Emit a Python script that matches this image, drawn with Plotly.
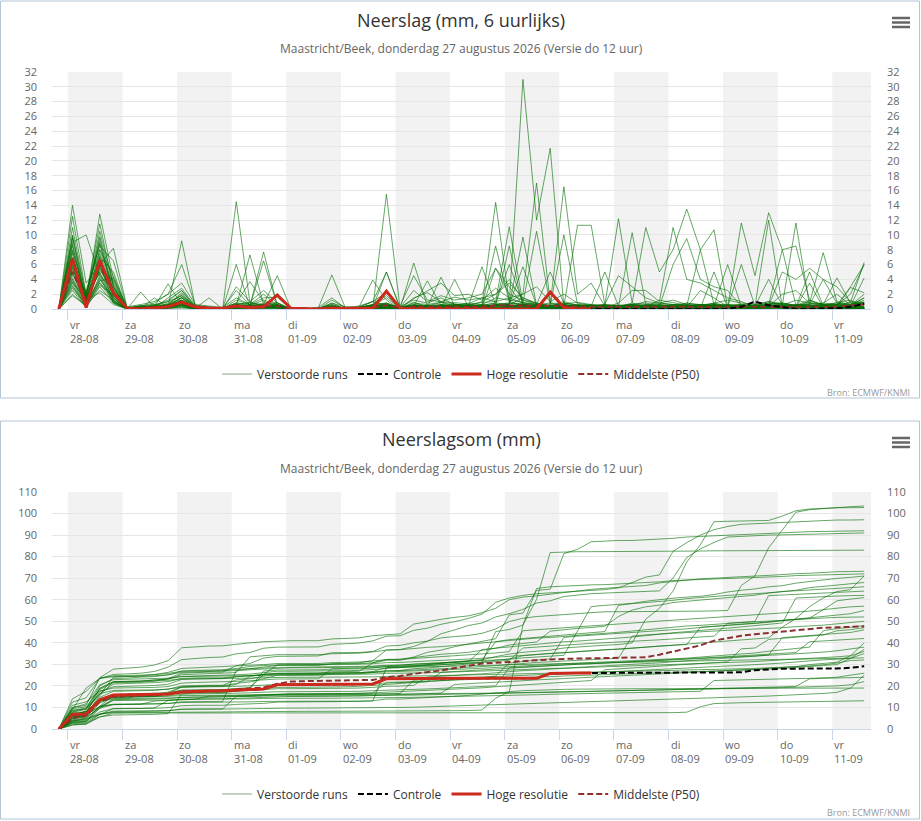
import plotly.graph_objects as go
import pandas as pd
import numpy as np

# 6-hourly steps (local time), 60 points
times = pd.date_range("2026-08-27 20:00", periods=60, freq="6h")
day_starts = pd.date_range("2026-08-28", "2026-09-11", freq="D")
day_names = ["vr", "za", "zo", "ma", "di", "wo", "do", "vr", "za", "zo", "ma", "di", "wo", "do", "vr"]

# Hoge resolutie (runs 10 days)
hoge_resolutie = [
    0, 6.8, 0.2, 6.6, 2.2, 0.1, 0, 0.1, 0.3, 0.9,
    0.3, 0.1, 0.1, 0.4, 0.2, 0.3, 1.9, 0.1, 0, 0,
    0.1, 0.1, 0, 0.1, 2.4, 0.1, 0, 0, 0, 0.1,
    0, 0, 0, 0, 0, 0, 2.3, 0.2, 0, 0,
]

controle = [
    0, 6.8, 0.2, 6.6, 2.2, 0.1, 0, 0.1, 0.3, 0.9,
    0.3, 0.1, 0.1, 0.4, 0.2, 0.3, 1.9, 0.1, 0, 0,
    0.1, 0.1, 0, 0.1, 2.4, 0.1, 0, 0, 0, 0.1,
    0, 0, 0, 0, 0, 0, 2.3, 0.2, 0, 0,
    0, 0, 0, 0, 0, 0, 0, 0, 0, 0,
    0.3, 1.0, 0.5, 0.2, 0, 0, 0, 0.1, 0.3, 0.7,
]

middelste_6u = [
    0, 5.0, 1.0, 6.0, 2.0, 0, 0.2, 0.2, 0.3, 1.0,
    0.2, 0.1, 0, 0.4, 0.3, 0.4, 0.4, 0, 0, 0,
    0.2, 0, 0.1, 0.2, 0.5, 0.1, 0.3, 0.3, 0.3, 0.3,
    0.3, 0.3, 0.5, 0.5, 0.5, 0.4, 0.4, 0.4, 0.3, 0.3,
    0.3, 0.3, 0.4, 0.3, 0.4, 0.3, 0.3, 0.4, 0.4, 0.3,
    0.3, 0.3, 0.4, 0.3, 0.4, 0.4, 0.4, 0.3, 0.5, 0.6,
]

middelste_som = [
    0, 5.0, 6.2, 12.8, 15.0, 15.2, 15.4, 15.7, 16.2, 17.3,
    17.5, 17.6, 17.7, 18.4, 18.8, 19.3, 21.0, 22.0, 22.2, 22.3,
    22.4, 22.5, 22.6, 22.8, 24.0, 24.6, 25.6, 26.3, 27.2, 28.3,
    29.3, 30.4, 30.7, 31.0, 31.5, 31.9, 32.3, 32.6, 32.7, 32.8,
    33.0, 33.0, 33.1, 33.3, 34.5, 36.0, 37.5, 38.8, 41.0, 42.3,
    43.3, 44.0, 44.6, 45.2, 45.6, 46.5, 47.0, 47.2, 47.5, 47.6,
]

# Verstoorde runs, 6-hourly amounts (mm)
verstoorde_runs = [
    [0, 9.5, 0.8, 8.0, 3.2, 0, 0.2, 0.5, 1.2, 2.5, 0.3, 0.2, 0, 3.0, 1.0, 2.5, 0.8, 0, 0, 0.2,
     1.5, 0.1, 0, 0.5, 2.5, 0.3, 1.2, 0.8, 1.5, 0.6, 0.5, 1.0, 2.0, 3.5, 1.5, 0.8, 0.5, 0.6, 0.2, 0.5,
     0.4, 0, 0, 0, 0.1, 0.2, 0, 0, 0.1, 0.2, 11.6, 4.5, 13.0, 8.0, 8.5, 1.2, 0.5, 0.6, 0.3, 0.3],
    [0, 6.0, 1.2, 7.5, 2.8, 0.1, 0, 0.3, 0.6, 1.5, 0.2, 0, 0.1, 2.5, 0.5, 1.2, 0.6, 0, 0, 0,
     0.8, 0, 0.2, 0.6, 1.8, 0.1, 0.6, 0.4, 0.9, 0.7, 0.3, 0.6, 1.5, 1.2, 0.8, 0.6, 0.4, 1.0, 0.5, 0.3,
     0.5, 0.3, 0.8, 11.0, 5.0, 8.0, 13.5, 8.0, 10.7, 0.2, 0.1, 0, 0.3, 2.0, 2.5, 0.8, 0.4, 0.2, 0, 0.1],
    [0, 12.5, 2.0, 9.0, 1.8, 0.2, 0.4, 0.8, 2.0, 3.5, 0.6, 0.4, 0.2, 1.5, 0.6, 2.0, 0.5, 0, 0.1, 0,
     1.2, 0.2, 0.4, 1.0, 2.2, 0.2, 2.5, 1.0, 1.8, 1.2, 1.5, 2.0, 5.5, 2.0, 1.2, 0.8, 0.4, 0.6, 0.3, 0.4,
     0.2, 0.8, 2.5, 2.5, 1.0, 11.0, 4.0, 3.5, 2.5, 1.5, 1.0, 0.3, 0.5, 0.2, 0.4, 0.2, 0.3, 0.1, 0, 0.1],
    [0, 5.0, 0.6, 6.5, 2.5, 0, 0.3, 0.2, 1.5, 2.8, 0.4, 0.1, 0, 0.8, 3.7, 1.0, 0.4, 0, 0, 0.1,
     0.6, 0, 0.3, 3.9, 1.2, 0, 1.5, 2.2, 1.0, 1.6, 1.2, 1.5, 1.0, 11.1, 0.8, 10.5, 0.6, 16.5, 2.0, 3.5,
     0.4, 0.2, 0, 0.3, 0.5, 0.2, 0.6, 0.3, 0.4, 0.2, 0.3, 0.2, 0.5, 0.2, 0.3, 0.1, 0.1, 0.2, 0.1, 0],
    [0, 8.0, 1.5, 10.5, 3.5, 0.1, 0.5, 0.2, 0.8, 1.8, 0.3, 0.2, 0.1, 0.6, 0.9, 0.5, 0.3, 0, 0, 0,
     0.5, 0.1, 0.3, 1.0, 5.0, 0.2, 1.4, 2.4, 3.5, 1.8, 2.0, 1.2, 2.8, 1.5, 2.0, 3.0, 1.0, 2.0, 0.8, 0.5,
     0.3, 0.2, 0.1, 0.4, 0.3, 6.0, 9.5, 4.0, 3.0, 2.5, 0.4, 0.2, 0.3, 0.1, 0.2, 0.2, 0.1, 0.2, 0.1, 0.1],
    [0, 3.5, 0.4, 4.0, 1.6, 0, 0, 0.1, 0.3, 0.9, 0.2, 0, 0, 0.4, 0.2, 0.3, 0.6, 0, 0, 0,
     0.2, 0, 0.1, 0.3, 0.8, 0, 0.3, 0.2, 0.5, 0.4, 0.3, 0.6, 0.4, 0.6, 31.0, 12.0, 21.7, 0.3, 0.1, 0,
     0, 0, 0.1, 0, 0, 0.2, 0, 0, 0.1, 0, 0, 0, 0.1, 0, 0, 0, 0.1, 0, 0.1, 0],
    [0, 10.0, 1.0, 12.8, 4.0, 0.3, 0.6, 1.0, 2.0, 6.0, 0.5, 0.3, 0.1, 0.8, 0.6, 0.5, 0.4, 0.1, 0, 0,
     0.8, 0.3, 0.2, 1.0, 0.5, 0.4, 4.5, 1.2, 1.0, 0.9, 0.7, 1.5, 2.0, 4.0, 1.2, 0.6, 0.8, 0.7, 0.9, 0.6,
     0.5, 0.4, 0.6, 0.3, 1.2, 0.8, 0.5, 0.6, 0.4, 0.3, 0.2, 0.4, 0.3, 0.5, 0.3, 0.2, 0.4, 0.3, 0.1, 0.1],
    [0, 7.5, 0.5, 5.5, 2.0, 0, 0.2, 0.4, 1.0, 2.5, 0.3, 0.1, 0, 1.2, 0.6, 1.5, 1.6, 0, 0, 0.1,
     0.4, 0, 0.2, 0.6, 0.8, 0.1, 0.9, 0.3, 0.6, 0.5, 0.8, 0.6, 14.4, 1.0, 2.0, 17.0, 0.8, 0.4, 0.3, 0.2,
     0.1, 0.3, 0.2, 0.5, 0.3, 0.6, 0.2, 0.4, 0.2, 0.3, 0.2, 0.1, 0.3, 0.2, 0.4, 0.1, 0.2, 0.3, 0.1, 0.1],
    [0, 4.5, 2.5, 8.5, 6.5, 0.1, 0.2, 0.5, 0.4, 1.2, 0.2, 0.1, 0, 0.5, 0.3, 0.8, 0.5, 0, 0, 0,
     0.3, 0, 0.1, 0.4, 0.6, 0.2, 0.5, 0.4, 0.3, 0.6, 0.4, 0.5, 0.8, 0.6, 1.5, 0.7, 0.4, 0.3, 0.5, 0.6,
     0.3, 0.2, 0.5, 0.4, 0.6, 0.3, 0.8, 0.5, 0.4, 0.6, 0.3, 0.5, 0.4, 5.0, 4.0, 5.5, 4.0, 3.0, 0.9, 6.3],
    [0, 14.0, 3.5, 6.0, 1.2, 0, 0.3, 0.2, 0.6, 1.0, 0.2, 0, 0.1, 0.6, 0.3, 0.4, 0.2, 0, 0, 0,
     0.3, 0.1, 0, 0.2, 0.4, 0, 0.5, 0.3, 0.4, 0.2, 0.3, 0.2, 0.5, 0.4, 0.6, 0.3, 0.5, 0.4, 11.3, 11.3,
     0.6, 0.4, 0.5, 1.0, 0.8, 0.6, 0.5, 0.4, 0.8, 1.2, 0.8, 0.6, 1.0, 0.5, 1.2, 0.8, 0.6, 0.8, 0.5, 0.6],
    [0, 6.5, 0.3, 3.5, 1.0, 0, 0.1, 0.2, 0.3, 0.7, 0.1, 0, 0, 14.5, 0.8, 0.6, 0.9, 0, 0, 0,
     0.6, 0, 0.2, 0.5, 1.5, 0.1, 0.8, 0.6, 0.9, 0.4, 0.5, 0.9, 1.0, 1.5, 0.8, 0.6, 5.0, 0.8, 0.5, 0.4,
     0.6, 4.5, 3.0, 1.5, 0.8, 1.2, 0.6, 0.5, 0.8, 0.4, 0.6, 0.5, 1.0, 0.8, 0.5, 1.2, 0.6, 0.4, 0.6, 0.8],
    [0, 9.0, 10.0, 4.5, 0.8, 0, 0.1, 0.3, 0.4, 1.2, 0.2, 0.1, 0, 0.5, 0.4, 0.3, 0.6, 0, 0, 0,
     0.2, 0, 0.1, 0.3, 0.5, 0.2, 0.4, 0.3, 0.2, 0.4, 0.6, 0.4, 8.5, 1.0, 0.5, 0.6, 0.4, 0.8, 0.5, 0.4,
     0.5, 12.2, 0.8, 0.4, 0.6, 0.5, 0.8, 0.6, 0.4, 0.5, 0.4, 0.3, 0.5, 0.6, 0.4, 0.5, 0.3, 0.4, 0.3, 0.3],
    [0, 5.5, 1.8, 11.5, 3.0, 0.1, 0.2, 0.6, 0.5, 2.0, 0.3, 0.2, 0.1, 0.4, 7.3, 0.6, 0.4, 0, 0, 0,
     0.4, 0.1, 0.2, 0.6, 0.8, 0.2, 0.6, 0.5, 0.3, 0.6, 0.5, 0.4, 0.6, 0.8, 0.6, 0.5, 0.3, 0.4, 0.6, 0.5,
     0.4, 0.5, 0.6, 0.8, 0.4, 0.6, 0.5, 0.3, 0.6, 0.3, 0.5, 0.4, 12.0, 0.3, 0.5, 0.2, 0.4, 0.3, 0.2, 0.2],
    [0, 3.0, 0.6, 7.0, 5.0, 0, 0.4, 0.2, 0.3, 1.5, 0.1, 0.1, 0, 0.6, 0.4, 7.7, 0.5, 0, 0, 0.1,
     0.3, 0, 0.1, 0.4, 0.7, 0.2, 0.3, 0.4, 0.6, 0.3, 0.4, 5.7, 0.6, 0.8, 0.7, 0.4, 0.5, 0.6, 0.3, 0.4,
     0.6, 0.5, 0.4, 0.6, 0.8, 0.6, 0.5, 0.4, 0.7, 0.5, 0.6, 0.5, 0.8, 0.5, 11.6, 0.4, 0.3, 0.2, 0.2, 0.1],
    [0, 8.5, 1.4, 6.0, 8.2, 0.2, 0.4, 0.6, 1.0, 1.8, 0.3, 0.2, 0.1, 0.5, 0.4, 0.3, 0.5, 0, 0, 0,
     0.4, 0.1, 0.2, 0.5, 0.6, 0.1, 0.4, 0.3, 0.5, 0.6, 0.4, 0.3, 0.5, 0.6, 9.7, 0.5, 0.4, 0.6, 0.4, 0.3,
     0.5, 0.3, 0.4, 0.6, 0.5, 0.4, 0.3, 0.5, 0.6, 0.4, 0.3, 0.5, 0.4, 0.3, 0.5, 0.4, 0.6, 4.2, 0.8, 0.7],
    [0, 2.5, 0.2, 3.0, 0.8, 0, 0.1, 0.2, 0.3, 9.2, 0.4, 0.2, 0.1, 0.6, 0.5, 0.4, 0.8, 0, 0, 0,
     0.3, 0, 0.2, 0.4, 0.6, 0.2, 0.5, 0.4, 0.3, 0.5, 0.6, 0.5, 0.8, 6.0, 0.8, 0.6, 0.5, 10.0, 0.6, 0.4,
     0.5, 0.3, 0.6, 0.4, 0.5, 0.3, 0.4, 0.6, 0.5, 0.4, 0.5, 0.4, 0.6, 0.8, 0.5, 0.6, 4.0, 0.8, 0.5, 0.3],
    [0, 7.0, 0.9, 9.5, 2.2, 0.1, 0.2, 0.3, 0.6, 2.2, 0.2, 0.1, 0.1, 0.8, 0.5, 0.6, 4.5, 0, 0, 0,
     0.2, 0, 0.1, 0.2, 0.5, 0.1, 0.3, 0.2, 0.4, 0.3, 0.3, 0.4, 0.5, 0.4, 0.6, 0.3, 0.4, 0.5, 0.3, 0.4,
     0.5, 0.3, 0.6, 0.4, 0.5, 0.3, 0.4, 8.0, 0.6, 0.4, 0.5, 0.4, 0.6, 0.8, 0.5, 0.6, 0.8, 0.6, 0.5, 1.5],
    [0, 11.0, 1.6, 5.0, 1.4, 0, 0.2, 0.1, 0.4, 1.6, 0.3, 0.1, 0, 0.4, 0.3, 0.5, 0.3, 0, 0, 0.1,
     4.6, 0.1, 0.2, 0.3, 0.4, 0.1, 0.3, 0.2, 0.4, 0.2, 0.3, 0.4, 0.5, 0.6, 5.7, 0.5, 0.4, 0.3, 0.5, 0.4,
     0.3, 0.2, 0.4, 0.3, 0.5, 0.4, 0.3, 0.6, 0.4, 6.0, 0.3, 0.4, 0.3, 0.5, 0.3, 0.2, 0.4, 0.3, 0.1, 0.1],
    [0, 4.0, 0.7, 5.5, 3.8, 0, 2.3, 0.2, 0.3, 1.2, 0.2, 0, 0, 0.3, 0.4, 6.5, 0.5, 0, 0, 0,
     0.2, 0, 0.1, 0.3, 0.5, 0.1, 0.4, 0.2, 0.3, 0.2, 0.3, 0.5, 0.4, 0.5, 0.6, 0.4, 0.3, 0.4, 0.2, 0.3,
     0.4, 0.3, 10.3, 0.6, 0.4, 0.3, 0.5, 0.4, 0.3, 0.2, 0.3, 0.2, 0.4, 0.3, 0.5, 0.3, 0.4, 0.6, 0.5, 0.7],
    [0, 6.2, 2.2, 8.0, 4.5, 0.1, 0.3, 0.2, 0.5, 1.5, 0.2, 0.1, 0, 0.5, 0.3, 0.4, 0.6, 0, 0, 0,
     0.3, 0, 0.1, 0.2, 0.4, 0.1, 0.2, 0.3, 0.2, 0.3, 0.2, 0.3, 0.4, 0.3, 0.5, 0.3, 0.4, 0.2, 0.3, 0.2,
     0.3, 0.2, 0.4, 0.3, 0.2, 0.4, 0.3, 0.5, 0.4, 0.6, 0.5, 0.4, 0.8, 0.6, 0.5, 0.8, 7.6, 1.0, 0.6, 0.8],
    [0, 3.8, 0.5, 2.5, 1.2, 0, 0.1, 0.1, 0.2, 0.8, 0.1, 0, 0, 6.0, 0.3, 0.4, 0.3, 0, 0, 0,
     0.2, 0, 0.1, 0.2, 0.3, 0.1, 0.3, 0.2, 0.4, 0.3, 0.4, 0.3, 0.5, 0.4, 0.6, 0.3, 0.4, 0.5, 0.3, 0.4,
     5.0, 0.4, 0.6, 0.3, 0.5, 0.4, 0.3, 0.5, 0.4, 0.3, 6.0, 0.4, 4.0, 0.5, 0.4, 0.3, 0.8, 2.0, 0.5, 0.9],
    [0, 5.2, 1.0, 6.8, 2.0, 0, 0.2, 0.4, 0.3, 1.0, 0.2, 0, 0, 0.4, 0.3, 0.5, 0.4, 0, 0, 0,
     0.2, 0, 0.1, 0.3, 0.5, 0.1, 0.4, 3.8, 0.5, 0.3, 0.4, 0.3, 0.6, 0.5, 0.4, 0.3, 0.5, 0.4, 0.3, 0.4,
     0.3, 0.2, 0.5, 0.4, 0.3, 0.5, 0.4, 0.3, 0.6, 0.4, 0.5, 0.4, 0.6, 8.0, 0.5, 0.4, 0.6, 0.5, 0.4, 1.2],
    [0, 8.8, 0.4, 7.2, 1.5, 0, 0.1, 0.2, 0.3, 0.9, 0.1, 0, 0, 0.3, 0.2, 0.4, 0.3, 0, 0, 0,
     0.1, 0, 0.1, 0.2, 0.3, 0.1, 0.2, 0.3, 4.3, 0.4, 0.3, 0.4, 0.5, 0.3, 0.4, 0.3, 0.5, 0.4, 0.3, 0.2,
     0.3, 0.4, 0.2, 0.5, 0.3, 0.4, 0.3, 0.2, 0.4, 0.3, 0.4, 0.3, 0.5, 0.4, 0.3, 5.0, 0.4, 0.3, 0.4, 0.4],
    [0, 2.0, 0.3, 4.5, 2.6, 0, 0.1, 0.3, 3.4, 0.6, 0.2, 0, 0, 0.2, 0.3, 0.2, 0.4, 0, 0, 0,
     0.1, 0, 0.1, 0.2, 0.4, 0.1, 0.2, 0.3, 0.2, 4.0, 0.3, 0.2, 0.4, 0.5, 0.3, 0.4, 0.3, 0.2, 0.3, 0.2,
     0.3, 0.4, 0.3, 0.2, 0.4, 0.3, 0.4, 0.3, 0.2, 0.4, 0.3, 0.4, 0.5, 0.3, 0.4, 1.0, 0.6, 0.5, 3.0, 6.0],
    [0, 6.8, 1.1, 5.8, 1.0, 0, 0.1, 0.2, 0.4, 0.8, 0.1, 0, 0, 0.3, 0.2, 0.3, 0.2, 0, 0, 0,
     0.2, 0, 0, 0.3, 0.3, 0.1, 0.2, 0.2, 0.3, 0.2, 0.3, 0.2, 0.4, 8.5, 0.3, 0.2, 0.4, 0.3, 0.2, 0.3,
     0.2, 0.3, 0.4, 0.2, 0.3, 0.2, 0.4, 0.3, 0.2, 0.3, 0.4, 0.3, 0.5, 0.3, 0.4, 0.3, 0.5, 0.6, 0.8, 0.9],
    [0, 4.8, 0.8, 3.8, 4.2, 0, 0.2, 0.1, 0.2, 0.6, 0.1, 0, 0, 0.2, 0.2, 0.3, 0.3, 0, 0, 0,
     0.1, 0, 0.1, 0.2, 0.2, 0.1, 6.2, 0.4, 0.3, 0.2, 0.2, 0.3, 0.2, 0.3, 0.4, 0.2, 0.3, 0.2, 0.3, 0.2,
     0.3, 0.2, 0.3, 0.2, 0.4, 0.2, 0.3, 0.4, 0.3, 0.2, 0.4, 0.3, 0.5, 0.4, 0.6, 0.5, 0.4, 0.3, 0.4, 4.2],
    [0, 9.8, 1.9, 8.8, 2.4, 0.1, 0.2, 0.1, 0.3, 0.7, 0.1, 0, 0, 0.2, 0.2, 0.3, 0.2, 0, 0, 0,
     0.1, 0, 0, 0.1, 0.3, 0, 0.2, 0.1, 0.2, 0.1, 0.2, 0.3, 0.2, 0.3, 0.2, 0.3, 0.2, 0.1, 0.2, 0.3,
     0.2, 0.1, 0.3, 0.2, 0.3, 0.2, 0.1, 0.2, 0.3, 0.2, 0.3, 0.2, 0.4, 0.3, 0.5, 0.3, 0.4, 0.3, 0.5, 2.0],
    [0, 3.2, 0.2, 6.2, 1.8, 0, 0.1, 1.5, 0.2, 0.5, 0.1, 1.5, 0, 0.3, 0.2, 0.2, 0.3, 0, 0, 0,
     0.1, 0, 0.1, 0.2, 5.0, 0.1, 0.2, 0.3, 0.2, 0.1, 0.2, 0.3, 0.2, 0.3, 0.2, 0.3, 0.2, 0.3, 0.2, 0.1,
     0.2, 0.3, 0.2, 0.1, 0.2, 0.3, 0.2, 0.1, 0.2, 0.2, 0.3, 0.2, 0.4, 0.3, 0.5, 0.6, 0.4, 0.3, 2.9, 2.2],
    [0, 5.8, 0.6, 4.2, 0.9, 0, 0, 0.1, 0.2, 0.5, 0, 0, 0, 0.2, 0.1, 0.2, 0.1, 0, 0, 0,
     0, 0, 0, 0.1, 15.5, 0.1, 0.2, 0.1, 0.2, 0.1, 0.1, 0.2, 0.1, 0.2, 0.1, 0.2, 0.1, 0.1, 0.2, 0.1,
     0.1, 0.2, 0.1, 0.1, 0.2, 0.1, 0.2, 0.1, 0.1, 0.2, 0.1, 0.1, 0.2, 0.1, 0.1, 0.1, 0.1, 0.1, 0, 0.1],
    [0, 7.8, 1.3, 9.8, 3.1, 0, 0.1, 0.2, 0.3, 0.6, 0.1, 0, 0, 0.2, 0.1, 0.2, 0.2, 0, 0, 0,
     0.1, 0, 0, 0.1, 0.2, 0, 0.1, 0.2, 0.1, 0.1, 0.1, 0.2, 0.1, 0.2, 0.1, 0.2, 0.1, 0.2, 0.1, 0.2,
     0.1, 0.2, 0.1, 0.2, 0.1, 0.1, 0.2, 0.1, 0.2, 0.1, 0.2, 0.1, 0.3, 0.2, 0.4, 0.3, 0.5, 0.8, 1.2, 0.2],
    [0, 4.2, 0.9, 5.2, 2.9, 0, 0.1, 0, 0.1, 0.4, 0, 0, 0, 0.1, 0.1, 0.2, 0.1, 0, 0, 0,
     0, 0, 0, 0.1, 0.2, 0, 0.1, 0.1, 0.2, 0.1, 0.1, 0.2, 0.1, 0.2, 0.1, 0.1, 0.2, 0.1, 0.1, 0.2,
     0.1, 0.1, 0.2, 0.1, 0.1, 0.2, 0.1, 0.1, 5.0, 0.2, 0.1, 0.2, 0.1, 0.2, 0.1, 0.1, 0.2, 0.3, 1.0, 0.9],
    [0, 2.8, 0.4, 3.6, 1.5, 0, 0, 0.1, 0.2, 0.5, 0, 0, 0, 0.2, 0.1, 0.1, 0.2, 0, 0, 0,
     0, 0, 0, 0.1, 0.2, 0, 0.1, 0.2, 0.1, 0.2, 0.2, 0.1, 0.3, 0.2, 0.1, 0.2, 0.1, 0.2, 0.3, 0.2,
     0.2, 0.3, 0.2, 0.1, 0.2, 0.3, 0.2, 0.1, 0.2, 0.3, 0.2, 0.3, 0.2, 0.3, 0.2, 0.4, 0.3, 0.5, 2.0, 6.0],
    [0, 6.4, 1.7, 4.8, 1.1, 0, 0.1, 0.2, 0.1, 0.3, 0.1, 0, 0, 0.2, 0.1, 0.2, 0.1, 0, 0, 0,
     0, 0, 0, 0.1, 0.1, 0, 0.1, 0.2, 0.1, 0.1, 0.1, 0.2, 0.1, 0.1, 0.2, 0.1, 0.1, 0.2, 0.1, 0.1,
     0.2, 0.1, 0.1, 0.2, 0.1, 0.2, 0.1, 0.2, 0.1, 0.2, 0.1, 0.2, 0.1, 0.3, 0.2, 3.5, 0.2, 0.1, 0.2, 0.2],
    [0, 5.6, 0.5, 6.6, 2.3, 0, 0, 0.1, 0.1, 0.3, 0, 0, 0, 0.1, 0.1, 0.1, 0.2, 0, 0, 0,
     0, 0, 0, 0, 0.1, 0, 0.1, 0.1, 0.1, 0, 0.1, 0.1, 0.1, 0.1, 0.2, 0.1, 0.1, 0.1, 0.1, 0.1,
     0.1, 0.1, 0.1, 0.2, 0.1, 0.1, 0.2, 0.1, 0.1, 0.1, 0.1, 0.1, 0.2, 0.1, 0.2, 0.1, 0.2, 0.3, 0.5, 1.5],
    [0, 3.6, 1.2, 2.2, 0.6, 0, 0, 0, 0.1, 0.2, 0, 0, 0, 0.1, 0.1, 0, 0.1, 0, 0, 0,
     0, 0, 0, 0, 0.1, 0, 0, 0.1, 0, 0.1, 0.1, 0.2, 5.5, 3.0, 0.5, 0.3, 0.2, 0.1, 0.1, 0.1,
     0, 0, 0.1, 0, 0, 0.1, 0, 0, 0, 0.1, 0, 0, 0, 0, 0, 0, 0, 0, 0.1, 0],
    [0, 1.8, 0.5, 3.2, 1.9, 0, 0, 0, 0, 0.1, 0, 0, 0, 0, 0, 0, 0, 0, 0, 0,
     0, 0, 0, 0, 0, 0, 0, 0, 0, 0, 0, 0, 0, 0, 0, 0, 0, 0, 0, 0.1,
     0, 0, 0, 0, 0, 0, 0.2, 2.5, 1.5, 0.3, 0.1, 0.1, 0.1, 0.1, 0.1, 0.1, 0.1, 0.1, 0.1, 0.1],
]

# ---- layout helpers (pixel -> paper) ----
W, H = 921, 821
L, R, T, B = 52, 871, 72, 729


def px_x(px):
    return (px - L) / (R - L)


def px_y(py):
    return (B - py) / (B - T)


FONT = "Open Sans"
LEG_FONT = "Liberation Sans Narrow, Open Sans"
GREEN = "rgba(0,110,0,0.6)"
RED = "#cc2a1c"
BROWN = "#8b2f2f"

x_range = ["2026-08-27 17:00", "2026-09-11 17:00"]
hr_times = times[:len(hoge_resolutie)]

fig = go.Figure()

panels = [
    dict(x="x", y="y", legend="legend", cum=False),
    dict(x="x2", y="y2", legend="legend2", cum=True),
]

for p in panels:
    f = np.cumsum if p["cum"] else np.asarray
    for run in verstoorde_runs:
        fig.add_trace(go.Scatter(
            x=times, y=f(run), mode="lines", xaxis=p["x"], yaxis=p["y"],
            line=dict(color=GREEN, width=1), showlegend=False, hoverinfo="skip"))
    # legend entry for the perturbed runs
    fig.add_trace(go.Scatter(
        x=[None], y=[None], mode="lines", xaxis=p["x"], yaxis=p["y"],
        name="Verstoorde runs", legend=p["legend"], legendrank=1,
        line=dict(color="#c3d3c3", width=2)))
    p50 = middelste_som if p["cum"] else middelste_6u
    fig.add_trace(go.Scatter(
        x=times, y=p50, mode="lines", xaxis=p["x"], yaxis=p["y"],
        name="Middelste (P50)", legend=p["legend"], legendrank=4,
        line=dict(color=BROWN, width=2, dash="6px,3px"), hoverinfo="skip"))
    fig.add_trace(go.Scatter(
        x=times, y=f(controle), mode="lines", xaxis=p["x"], yaxis=p["y"],
        name="Controle", legend=p["legend"], legendrank=2,
        line=dict(color="black", width=2, dash="6px,3px"), hoverinfo="skip"))
    fig.add_trace(go.Scatter(
        x=hr_times, y=f(hoge_resolutie), mode="lines", xaxis=p["x"], yaxis=p["y"],
        name="Hoge resolutie", legend=p["legend"], legendrank=3,
        line=dict(color=RED, width=3), hoverinfo="skip"))

# invisible traces so the right-hand axes are drawn
fig.add_trace(go.Scatter(x=[times[0]], y=[0], xaxis="x", yaxis="y3", mode="markers",
                         marker=dict(opacity=0), showlegend=False, hoverinfo="skip"))
fig.add_trace(go.Scatter(x=[times[0]], y=[0], xaxis="x2", yaxis="y4", mode="markers",
                         marker=dict(opacity=0), showlegend=False, hoverinfo="skip"))

top_dom = [px_y(309), 1]
bot_dom = [0, px_y(492)]

xaxis_common = dict(
    type="date", range=x_range, tickvals=list(day_starts), showticklabels=False,
    ticks="outside", ticklen=10, tickcolor="#ccd6eb", showgrid=False,
    showline=True, linecolor="#ccd6eb", linewidth=1, zeroline=False, fixedrange=True)
yaxis_common = dict(
    showgrid=True, gridcolor="#e6e6e6", gridwidth=1, zeroline=False, showline=False,
    ticks="", tickfont=dict(family=FONT, size=11, color="#666666"), fixedrange=True)

shapes = []
# alternating day bands
for k, d in enumerate(day_starts):
    if k % 2 == 0:
        end = min(d + pd.Timedelta(days=1), pd.Timestamp(x_range[1]))
        for xr, yr in (("x", "y domain"), ("x2", "y2 domain")):
            shapes.append(dict(type="rect", xref=xr, yref=yr, x0=d, x1=end, y0=0, y1=1,
                               fillcolor="#f2f2f2", line=dict(width=0), layer="below"))

# chart frames
for y_top, y_bot in ((1, 398), (421, 819)):
    shapes.append(dict(type="rect", xref="paper", yref="paper",
                       x0=px_x(0.5), x1=px_x(919.5), y0=px_y(y_bot), y1=px_y(y_top),
                       line=dict(color="#b4c6d6", width=1), fillcolor="rgba(0,0,0,0)"))

# menu icons
for base in (18, 438):
    for dy in (0, 4.5, 9):
        shapes.append(dict(type="line", xref="paper", yref="paper",
                           x0=px_x(892), x1=px_x(910), y0=px_y(base + dy), y1=px_y(base + dy),
                           line=dict(color="#666666", width=2.5)))

annotations = []
titles = [
    ("Neerslag (mm, 6 uurlijks)", 20, 48),
    ("Neerslagsom (mm)", 439, 468),
]
subtitle = "Maastricht/Beek, donderdag 27 augustus 2026 (Versie do 12 uur)"
for title, ty, sy in titles:
    annotations.append(dict(text=title, xref="paper", yref="paper", x=px_x(461), y=px_y(ty),
                            xanchor="center", yanchor="middle", showarrow=False,
                            font=dict(family=FONT, size=18, color="#333333")))
    annotations.append(dict(text=subtitle, xref="paper", yref="paper", x=px_x(461), y=px_y(sy),
                            xanchor="center", yanchor="middle", showarrow=False,
                            font=dict(family=FONT, size=12, color="#666666")))

for xr, base in (("x", 309), ("x2", 729)):
    for name, d in zip(day_names, day_starts):
        annotations.append(dict(text=f"{name}<br>{d.strftime('%d-%m')}", xref=xr, yref="paper",
                                x=d, y=px_y(base + 6), xanchor="left", yanchor="top", xshift=0,
                                align="left", showarrow=False,
                                font=dict(family=FONT, size=11, color="#666666")))

for by in (392, 812):
    annotations.append(dict(text="Bron: ECMWF/KNMI", xref="paper", yref="paper",
                            x=px_x(912), y=px_y(by), xanchor="right", yanchor="middle",
                            showarrow=False, font=dict(family=FONT, size=9, color="#999999")))

legend_common = dict(orientation="h", xanchor="center", yanchor="middle", x=px_x(461),
                     font=dict(family=LEG_FONT, size=12, color="#333333"),
                     bgcolor="rgba(0,0,0,0)", itemwidth=30, traceorder="normal")

fig.update_layout(
    width=W, height=H,
    margin=dict(l=L, r=W - R, t=T, b=H - B),
    paper_bgcolor="white", plot_bgcolor="white",
    font=dict(family=FONT),
    xaxis=dict(xaxis_common, anchor="y"),
    xaxis2=dict(xaxis_common, anchor="y2"),
    yaxis=dict(yaxis_common, domain=top_dom, range=[0, 32], dtick=2, anchor="x",
               ticklabelstandoff=14),
    yaxis2=dict(yaxis_common, domain=bot_dom, range=[0, 110], dtick=10, anchor="x2",
                ticklabelstandoff=14),
    yaxis3=dict(yaxis_common, overlaying="y", side="right", range=[0, 32], dtick=2,
                showgrid=False, anchor="x", ticklabelstandoff=15),
    yaxis4=dict(yaxis_common, overlaying="y2", side="right", range=[0, 110], dtick=10,
                showgrid=False, anchor="x2", ticklabelstandoff=15),
    legend=dict(legend_common, y=px_y(374)),
    legend2=dict(legend_common, y=px_y(794)),
    shapes=shapes,
    annotations=annotations,
    showlegend=True,
    hovermode=False,
)

# the page's default body margin would shift the figure by 8 px
fig.write_html("out.html", config={"displayModeBar": False},
               post_script="document.body.style.margin='0';")
